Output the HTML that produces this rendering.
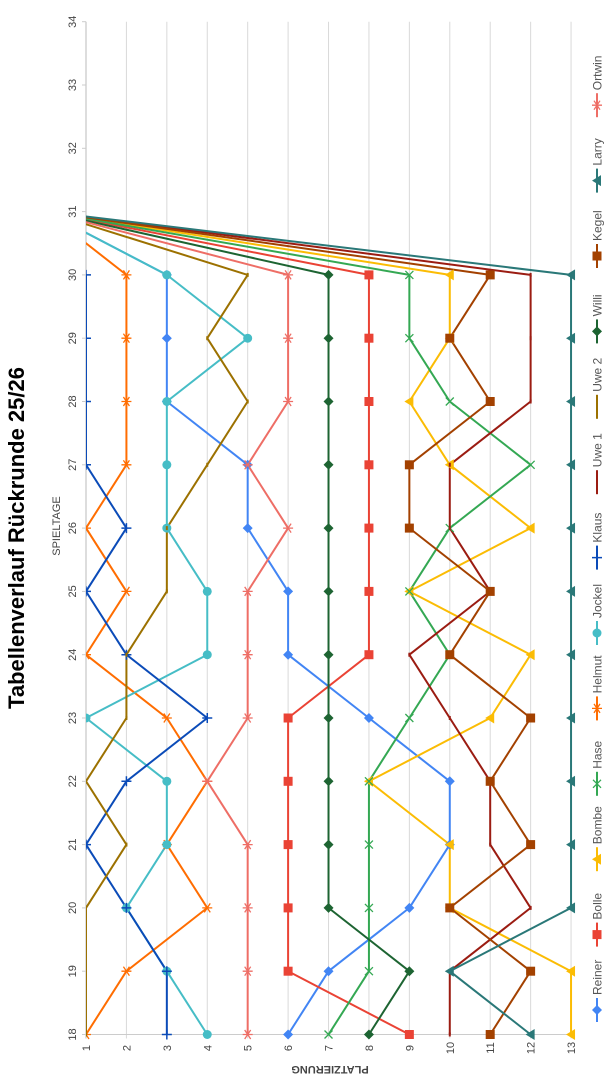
<!DOCTYPE html>
<html><head><meta charset="utf-8"><style>
html,body{margin:0;padding:0;background:#fff;}
svg{display:block;font-family:"Liberation Sans",sans-serif;}
</style></head><body>
<svg id="c" width="610" height="1081" xmlns="http://www.w3.org/2000/svg">
<defs><clipPath id="cl"><rect x="86" y="0" width="524" height="1081"/></clipPath></defs>
<g id="grid"></g>
<g id="series" clip-path="url(#cl)"></g>
<g id="labels" fill="#444" font-size="11"></g>
<text transform="translate(24,538) rotate(-90)" text-anchor="middle" font-size="22" font-weight="bold" fill="#000">Tabellenverlauf Rückrunde 25/26</text>
<text transform="translate(60,526) rotate(-90)" text-anchor="middle" font-size="11" fill="#444">SPIELTAGE</text>
<text transform="translate(330,1066) rotate(180)" text-anchor="middle" font-size="11" fill="#444" font-weight="bold">PLATZIERUNG</text>
<g id="legend" font-size="12" fill="#555"></g>
</svg>
<script>
var NS="http://www.w3.org/2000/svg";
function X(p){return 86+(p-1)*40.42;}
function Y(s){return 1034.5-(s-18)*63.3;}
function el(t,a,par){var e=document.createElementNS(NS,t);for(var k in a)e.setAttribute(k,a[k]);par.appendChild(e);return e;}
var grid=document.getElementById('grid'),lab=document.getElementById('labels');
for(var p=1;p<=13;p++){
 el('line',{x1:X(p),x2:X(p),y1:Y(34),y2:Y(18)+4,stroke:p==1?'#bbb':'#d9d9d9','stroke-width':1},grid);
 var t=el('text',{transform:'translate('+(X(p)+4)+','+1048+') rotate(-90)','text-anchor':'middle'},lab);t.textContent=p;
}
el('line',{x1:82,x2:X(13),y1:Y(18),y2:Y(18),stroke:'#ccc','stroke-width':1},grid);
for(var s=18;s<=34;s++){
 el('line',{x1:82,x2:86,y1:Y(s),y2:Y(s),stroke:'#ccc'},grid);
 var t=el('text',{transform:'translate(76,'+Y(s)+') rotate(-90)','text-anchor':'middle'},lab);t.textContent=s;
}
var S=[
["Reiner","#4285F4","diamond",[6,7,9,10,10,8,6,6,5,5,3,3,3]],
["Bolle","#EA4335","square",[9,6,6,6,6,6,8,8,8,8,8,8,8]],
["Bombe","#FBBC04","tri",[13,13,10,10,8,11,12,9,12,10,9,10,10]],
["Hase","#34A853","x",[7,8,8,8,8,9,10,9,10,12,10,9,9]],
["Helmut","#FF6D01","star",[1,2,4,3,4,3,1,2,1,2,2,2,2]],
["Jockel","#46BDC6","circle",[4,3,2,3,3,1,4,4,3,3,3,5,3]],
["Klaus","#0B4BB8","plus",[3,3,2,1,2,4,2,1,2,1,1,1,1]],
["Uwe 1","#9B1C12","none",[10,10,12,11,11,10,9,11,10,10,12,12,12]],
["Uwe 2","#9C7100","none",[1,1,1,2,1,2,2,3,3,4,5,4,5]],
["Willi","#1D6432","diamond",[8,9,7,7,7,7,7,7,7,7,7,7,7]],
["Kegel","#A34100","square",[11,12,10,12,11,12,10,11,9,9,11,10,11]],
["Larry","#2A7878","tri",[12,10,13,13,13,13,13,13,13,13,13,13,13]],
["Ortwin","#EE6E66","star",[5,5,5,5,4,5,5,5,6,5,6,6,6]]
];
function marker(type,x,y,c,g){
 if(type=="diamond")el('path',{d:'M'+x+' '+(y-5)+'L'+(x+5)+' '+y+'L'+x+' '+(y+5)+'L'+(x-5)+' '+y+'Z',fill:c},g);
 else if(type=="square")el('rect',{x:x-4.5,y:y-4.5,width:9,height:9,fill:c},g);
 else if(type=="circle")el('circle',{cx:x,cy:y,r:4.5,fill:c},g);
 else if(type=="tri")el('path',{d:'M'+(x-5)+' '+y+'L'+(x+4)+' '+(y-5.5)+'L'+(x+4)+' '+(y+5.5)+'Z',fill:c},g);
 else if(type=="x")el('path',{d:'M'+(x-4)+' '+(y-4)+'L'+(x+4)+' '+(y+4)+'M'+(x+4)+' '+(y-4)+'L'+(x-4)+' '+(y+4),stroke:c,'stroke-width':1.3,fill:'none'},g);
 else if(type=="plus")el('path',{d:'M'+(x-5)+' '+y+'L'+(x+5)+' '+y+'M'+x+' '+(y-5)+'L'+x+' '+(y+5),stroke:c,'stroke-width':1.5,fill:'none'},g);
 else if(type=="star")el('path',{d:'M'+(x-5)+' '+y+'L'+(x+5)+' '+y+'M'+(x-3)+' '+(y-4.5)+'L'+(x+3)+' '+(y+4.5)+'M'+(x+3)+' '+(y-4.5)+'L'+(x-3)+' '+(y+4.5),stroke:c,'stroke-width':1.3,fill:'none'},g);
 else el('path',{d:'M'+x+' '+(y-2)+'L'+x+' '+(y+2),stroke:c,'stroke-width':2},g);
}
var sg=document.getElementById('series');
S.forEach(function(d){
 var pts=d[3].map(function(v,i){return X(v)+','+Y(18+i);});
 pts.push(X(0)+','+Y(31));
 el('polyline',{points:pts.join(' '),fill:'none',stroke:d[1],'stroke-width':2,'stroke-linejoin':'round'},sg);
});
S.forEach(function(d){d[3].forEach(function(v,i){marker(d[2],X(v),Y(18+i),d[1],sg);});});
var lg=document.getElementById('legend');
S.forEach(function(d,i){
 var y=1010-i*75.4,x=597;
 el('line',{x1:x,x2:x,y1:y-12,y2:y+12,stroke:d[1],'stroke-width':2},lg);
 if(d[2]!="none")marker(d[2],x,y,d[1],lg);
 var t=el('text',{transform:'translate('+(x+4.5)+','+(y-15)+') rotate(-90)','text-anchor':'start'},lg);t.textContent=d[0];
});
</script>
</body></html>
